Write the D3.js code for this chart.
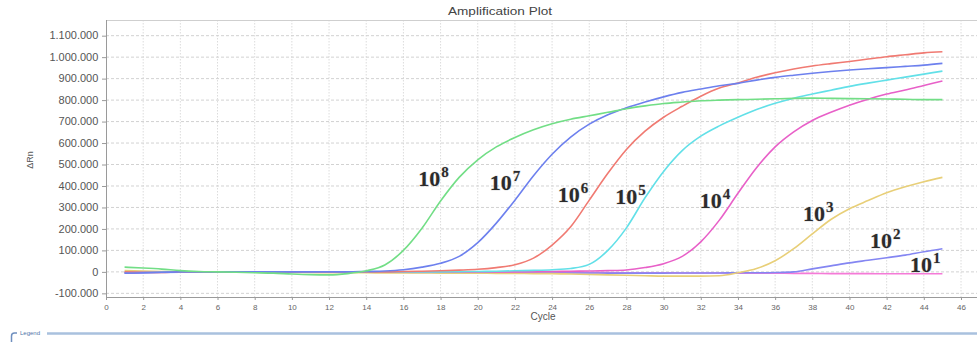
<!DOCTYPE html>
<html><head><meta charset="utf-8">
<script src="https://cdn.jsdelivr.net/npm/d3@7"></script>
<style>body{margin:0;background:#fff}svg{display:block}</style>
</head><body><svg id="chart" width="977" height="342"></svg>
<script>
// ---------- DATA ----------
const cycles = d3.range(1, 46); // 1..45
const seriesLabels = ["10^8","10^7","10^6","10^5","10^4","10^3","10^2","10^1"];
const seriesExp = ["8","7","6","5","4","3","2","1"];
const seriesColors = ["#72de86","#6d80ee","#f07a72","#62e0e8","#e860c8","#e8cf78","#8486f2","#f57ad8"];

const s1e8 = [22000,18000,13000,6000,2000,0,-2000,-4000,-6000,-10000,-13000,-14000,-8000,5000,32000,100000,203000,330000,440000,522000,582000,626000,662000,690000,711000,727000,743000,760000,773000,784000,791000,797000,800000,802000,804000,806000,808000,809000,808000,807000,806000,805000,804000,802000,802000];
const s1e7 = [-6000,-4000,-2000,0,0,0,0,0,0,0,0,0,0,2000,4000,10000,22000,40000,72000,136000,227000,334000,448000,548000,628000,688000,732000,764000,791000,815000,836000,852000,867000,878000,893000,906000,916000,925000,933000,940000,946000,951000,957000,963000,971000];
const s1e6 = [0,-2000,-3000,0,0,0,0,0,0,0,0,0,0,0,0,2000,3000,5000,8000,12000,20000,33000,64000,125000,210000,334000,459000,570000,655000,720000,771000,818000,856000,880000,906000,927000,945000,959000,970000,980000,991000,1002000,1011000,1020000,1025000];
const s1e5 = [-2000,-2000,-1000,0,0,0,0,0,0,0,0,0,0,0,0,0,0,0,1000,2000,3000,5000,7000,10000,16000,35000,100000,205000,345000,468000,565000,632000,680000,720000,756000,785000,809000,828000,846000,864000,879000,893000,907000,921000,935000];
const s1e4 = [-3000,-2000,-1000,0,0,0,0,0,0,0,0,0,0,0,0,0,0,0,0,0,0,0,1000,2000,3000,4000,6000,9000,20000,38000,72000,140000,241000,366000,485000,582000,652000,705000,743000,776000,804000,828000,847000,868000,889000];
const s1e3 = [6000,4000,2000,0,-1000,-1000,-2000,-2000,-3000,-3000,-3000,-4000,-4000,-4000,-5000,-5000,-5000,-6000,-6000,-6000,-7000,-7000,-8000,-8000,-10000,-12000,-14000,-16000,-18000,-20000,-20000,-20000,-18000,-4000,16000,52000,108000,177000,244000,294000,332000,368000,396000,420000,440000];
const s1e2 = [-6000,-5000,-3000,-1000,0,0,0,0,0,0,0,0,-1000,-1000,-2000,-2000,-3000,-3000,-4000,-4000,-5000,-5000,-5000,-5000,-5000,-5000,-6000,-6000,-6000,-6000,-5000,-5000,-5000,-4000,-4000,-3000,0,14000,28000,42000,54000,66000,78000,94000,108000];
const s1e1 = [-3000,-2000,-1000,0,0,0,0,0,0,0,0,0,0,0,0,-1000,-1000,-2000,-2000,-2000,-3000,-3000,-3000,-3000,-3000,-3000,-4000,-4000,-4000,-4000,-5000,-5000,-5000,-6000,-6000,-6000,-7000,-7000,-8000,-8000,-8000,-9000,-9000,-9000,-9000];
const seriesValues = [s1e8, s1e7, s1e6, s1e5, s1e4, s1e3, s1e2, s1e1];

// label anchors in data units (cycle, ΔRn)
const labelCycle = [16.8, 20.65, 24.3, 27.4, 31.95, 37.5, 41.1, 43.25];
const labelValue = [400000, 381000, 325000, 316000, 297000, 237000, 111000, 0];

const xTicks = d3.range(0, 47, 2);
const yTicks = d3.range(-100000, 1100001, 100000);

// ---------- CHART ----------
const svg = d3.select("#chart");
const x = d3.scaleLinear().domain([0, 46]).range([106, 961]);
const y = d3.scaleLinear().domain([-117000, 1173000]).range([297, 20]);
const plotRight = 977;

const loc = d3.formatLocale({decimal: ",", thousands: ".", grouping: [3], currency: ["", ""], minus: "-"});
const fmt = loc.format(",d");

// grid
svg.append("g").selectAll("line").data(xTicks.filter(d => d > 0)).join("line")
  .attr("x1", d => x(d)).attr("x2", d => x(d)).attr("y1", y.range()[1]).attr("y2", y.range()[0])
  .attr("stroke", "#dcdcdc").attr("stroke-width", 1).attr("stroke-dasharray", "1.5,1.5");
svg.append("g").selectAll("line").data(yTicks).join("line")
  .attr("x1", x(0)).attr("x2", plotRight).attr("y1", d => y(d)).attr("y2", d => y(d))
  .attr("stroke", "#d2d2d2").attr("stroke-width", 1).attr("stroke-dasharray", "3,2");

// frame top
svg.append("line").attr("x1", x(0)).attr("x2", plotRight).attr("y1", 20.5).attr("y2", 20.5)
  .attr("stroke", "#cfcfcf");

// axes
const xAxis = d3.axisBottom(x).tickValues(xTicks).tickSize(3).tickPadding(4).tickFormat(d3.format("d"));
const gx = svg.append("g").attr("transform", `translate(0,${y.range()[0]})`).call(xAxis);
gx.select(".domain").attr("d", `M${x(0)},0.5H${plotRight}`).attr("stroke", "#9a9a9a");
gx.selectAll(".tick line").attr("stroke", "#9a9a9a");
gx.selectAll("text").attr("fill", "#666").style("font", "8px 'Liberation Sans', Arial, sans-serif");

const yAxis = d3.axisLeft(y).tickValues(yTicks).tickSize(4).tickPadding(3).tickFormat(fmt);
const gy = svg.append("g").attr("transform", `translate(${x(0)},0)`).call(yAxis);
gy.select(".domain").attr("d", `M0.5,${y.range()[1]}V${y.range()[0]}`).attr("stroke", "#9a9a9a");
gy.selectAll(".tick line").attr("stroke", "#9a9a9a");
gy.selectAll("text").attr("fill", "#555").style("font", "10px 'Liberation Sans', Arial, sans-serif")
  .attr("transform", "scale(1.1,1)");

// title & axis labels
svg.append("text").attr("x", 500).attr("y", 15).attr("text-anchor", "middle")
  .attr("textLength", 104).attr("lengthAdjust", "spacingAndGlyphs")
  .style("font", "11px 'Liberation Sans', Arial, sans-serif").attr("fill", "#444").text("Amplification Plot");
svg.append("text").attr("x", 543).attr("y", 320).attr("text-anchor", "middle")
  .style("font", "10px 'Liberation Sans', Arial, sans-serif").attr("fill", "#555").text("Cycle");
svg.append("text").attr("transform", "translate(33,160) rotate(-90)").attr("text-anchor", "middle")
  .style("font", "9px 'Liberation Sans', Arial, sans-serif").attr("fill", "#555").text("ΔRn");

// curves
const line = d3.line().x((d, i) => x(cycles[i])).y(d => y(d)).curve(d3.curveMonotoneX);
const order = [7, 6, 5, 4, 3, 2, 1, 0];
svg.append("g").selectAll("path").data(order).join("path")
  .attr("d", i => line(seriesValues[i]))
  .attr("fill", "none").attr("stroke", i => seriesColors[i]).attr("stroke-width", 1.6)
  .attr("stroke-linejoin", "round");

// labels
const lab = svg.append("g").selectAll("text").data(seriesLabels).join("text")
  .attr("x", (d, i) => x(labelCycle[i])).attr("y", (d, i) => y(labelValue[i]))
  .attr("fill", "#2b2b2b")
  .style("font", "bold 22px 'Liberation Serif', 'DejaVu Serif', serif")
  .style("paint-order", "stroke").attr("stroke", "rgba(120,120,120,0.25)").attr("stroke-width", 1.2);
lab.append("tspan").text("10");
lab.append("tspan").attr("dx", 1).attr("dy", -9).style("font-size", "15px").text((d, i) => seriesExp[i]);

// legend strip
svg.append("path").attr("d", "M11.5,342V336Q11.5,333 14.5,333H17").attr("fill", "none")
  .attr("stroke", "#6f8fbf").attr("stroke-width", 1.5);
svg.append("text").attr("x", 20).attr("y", 335).style("font", "6px 'Liberation Sans', Arial, sans-serif")
  .attr("fill", "#4f74a8").text("Legend");
svg.append("line").attr("x1", 47).attr("x2", 977).attr("y1", 333.5).attr("y2", 333.5)
  .attr("stroke", "#a9c1de").attr("stroke-width", 2.5);
</script></body></html>
